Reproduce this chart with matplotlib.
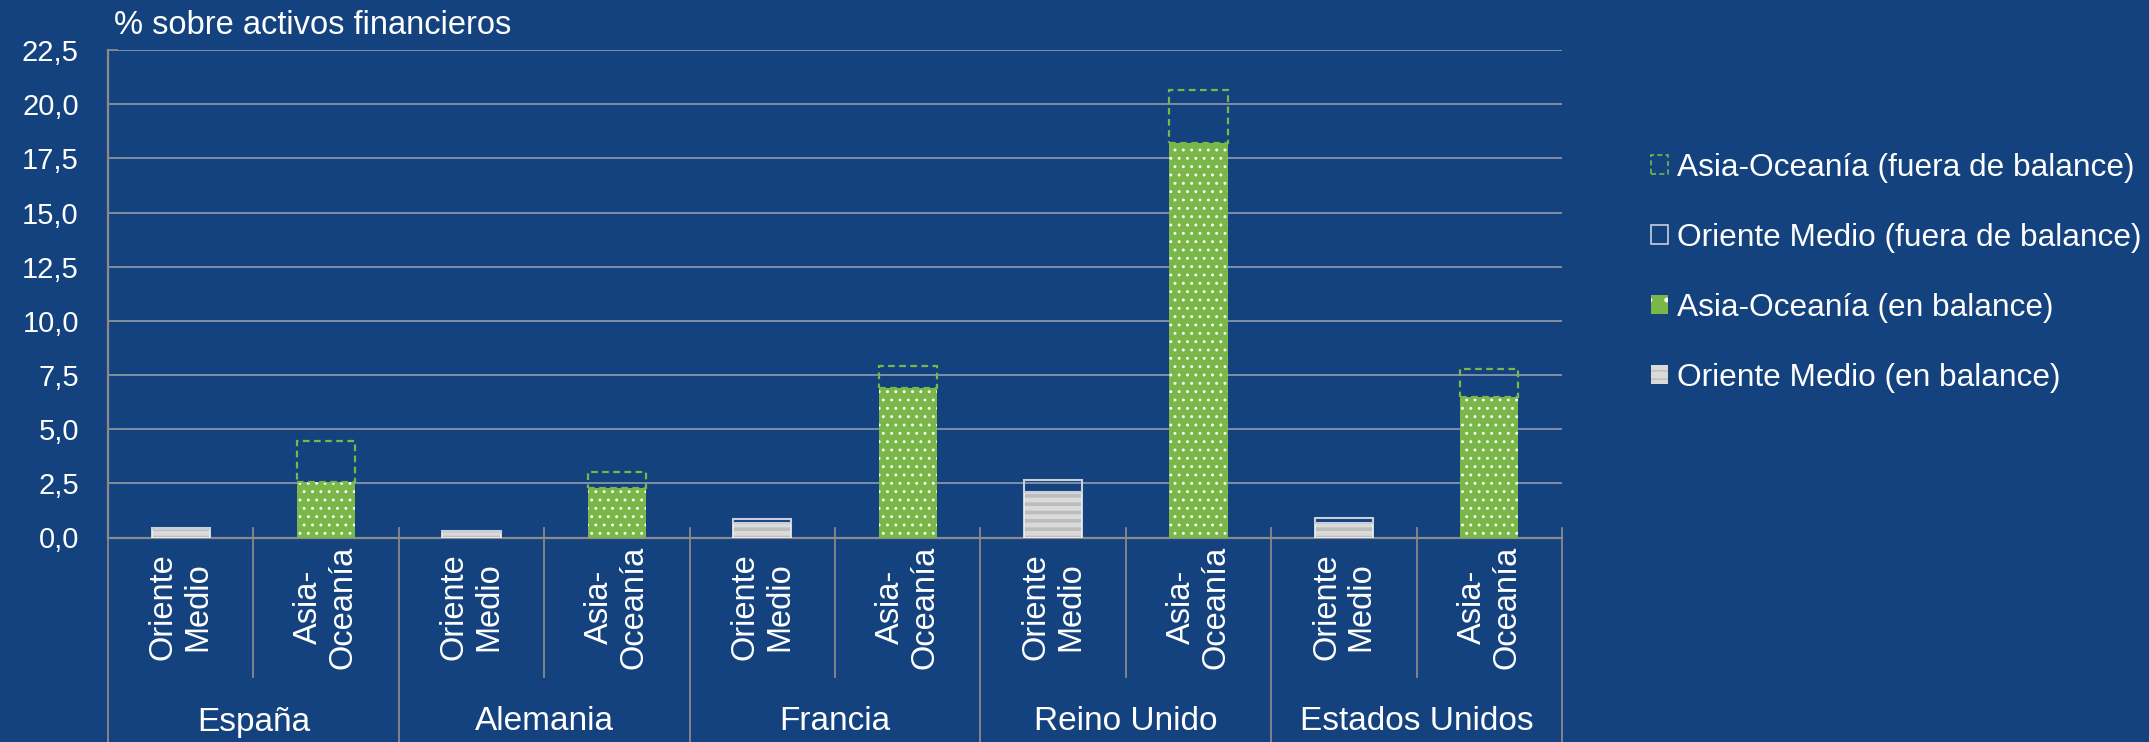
import matplotlib
matplotlib.use("Agg")
import matplotlib.pyplot as plt
from matplotlib.patches import Patch
from matplotlib.ticker import FixedLocator, FuncFormatter

# data (% of financial assets)
countries = ["España", "Alemania", "Francia", "Reino Unido", "Estados Unidos"]
sub_labels = ["Oriente\nMedio", "Asia-\nOceanía"]
om_en = [0.40, 0.27, 0.68, 2.10, 0.68]
om_fuera = [0.05, 0.03, 0.16, 0.55, 0.21]
ao_en = [2.56, 2.30, 6.91, 18.22, 6.50]
ao_fuera = [1.88, 0.71, 1.02, 2.43, 1.26]
yticks = [0, 2.5, 5, 7.5, 10, 12.5, 15, 17.5, 20, 22.5]

BG = "#14427f"
GREEN = "#7ab648"
GRAY = "#dadada"
STRIPE = "#bdbdbd"
GRID = "#8795aa"
AXIS = "#8a8a8a"

plt.rcParams["font.family"] = ["Liberation Sans", "DejaVu Sans"]

W, H = 2149, 742
fig = plt.figure(figsize=(W / 100, H / 100), dpi=100, facecolor=BG)
x0, x1, ytop, ybot = 108, 1562, 50, 537.5
ax = fig.add_axes([x0 / W, 1 - ybot / H, (x1 - x0) / W, (ybot - ytop) / H])
ax.set_facecolor(BG)

n = len(countries)
xo = [2 * i for i in range(n)]
xa = [2 * i + 1 for i in range(n)]
bw = 0.40

# Oriente Medio
with plt.rc_context({"hatch.linewidth": 2.6}):
    ax.bar(xo, om_en, bw, color=GRAY, hatch="--", edgecolor=STRIPE, lw=0, zorder=3)
ax.bar(xo, om_en, bw, fill=False, edgecolor="#f2f2f2", lw=1.2, zorder=4)
ax.bar(xo, om_fuera, bw, bottom=om_en, fill=False, edgecolor="#c9cfd9", lw=1.5, zorder=4)
# Asia-Oceania
with plt.rc_context({"hatch.linewidth": 0.9}):
    ax.bar(xa, ao_en, bw, color=GREEN, hatch="..", edgecolor="white", lw=0, zorder=3)
ax.bar(xa, ao_fuera, bw, bottom=ao_en, fill=False, edgecolor=GREEN,
       lw=1.6, linestyle=(0, (3, 2)), zorder=4)

ax.set_xlim(-0.5, 2 * n - 0.5)
ax.set_ylim(0, 22.5)
ax.yaxis.set_major_locator(FixedLocator(yticks))
ax.yaxis.set_major_formatter(FuncFormatter(lambda v, p: f"{v:.1f}".replace(".", ",")))
ax.set_xticks([])
ax.tick_params(axis="y", direction="in", length=7, width=1.2, color=AXIS,
               labelsize=21, labelcolor="white", pad=21)
ax.grid(axis="y", color=GRID, lw=1.3, zorder=1)
ax.set_axisbelow(True)
for s in ["top", "right"]:
    ax.spines[s].set_visible(False)
for s in ["left", "bottom"]:
    ax.spines[s].set_color(AXIS)
    ax.spines[s].set_linewidth(1.6)

# multi-level category axis
axh = ybot - ytop
tr = ax.get_xaxis_transform()
for k in range(2 * n + 1):
    xb = k - 0.5
    y_end = -(H - ybot) / axh if k % 2 == 0 else -(677 - ybot) / axh
    ax.plot([xb, xb], [10 / axh, y_end], color=AXIS, lw=1.3, transform=tr, clip_on=False)
for i in range(n):
    for j, lab in enumerate(sub_labels):
        ax.text(2 * i + j, -(607 - ybot) / axh, lab, transform=tr, rotation=90,
                ha="center", va="center", multialignment="center",
                fontsize=23.5, color="white", linespacing=1.15)
    ax.text(2 * i + 0.5, -(722 - ybot) / axh, countries[i], transform=tr,
            ha="center", va="center", fontsize=24, color="white")

fig.text(114 / W, 1 - 25 / H, "% sobre activos financieros", fontsize=23.5,
         color="white", ha="left", va="center")

handles = [
    Patch(facecolor="none", edgecolor=GREEN, linestyle=(0, (3, 2)), lw=1.2),
    Patch(facecolor="none", edgecolor="#c9cfd9", lw=1.2),
    Patch(facecolor=GREEN, edgecolor="white", hatch=".", lw=0),
    Patch(facecolor=GRAY, edgecolor=STRIPE, hatch="--", lw=0),
]
labels = ["Asia-Oceanía (fuera de balance)", "Oriente Medio (fuera de balance)",
          "Asia-Oceanía (en balance)", "Oriente Medio (en balance)"]
leg = fig.legend(handles, labels, loc="upper left", bbox_to_anchor=(1651 / W, 1 - 153 / H),
                 frameon=False, fontsize=22.8, handlelength=0.53, handleheight=0.53,
                 handletextpad=0.28, labelspacing=1.26, borderaxespad=0, borderpad=0)
for t in leg.get_texts():
    t.set_color("white")

fig.savefig("out.png", dpi=100, facecolor=BG)
